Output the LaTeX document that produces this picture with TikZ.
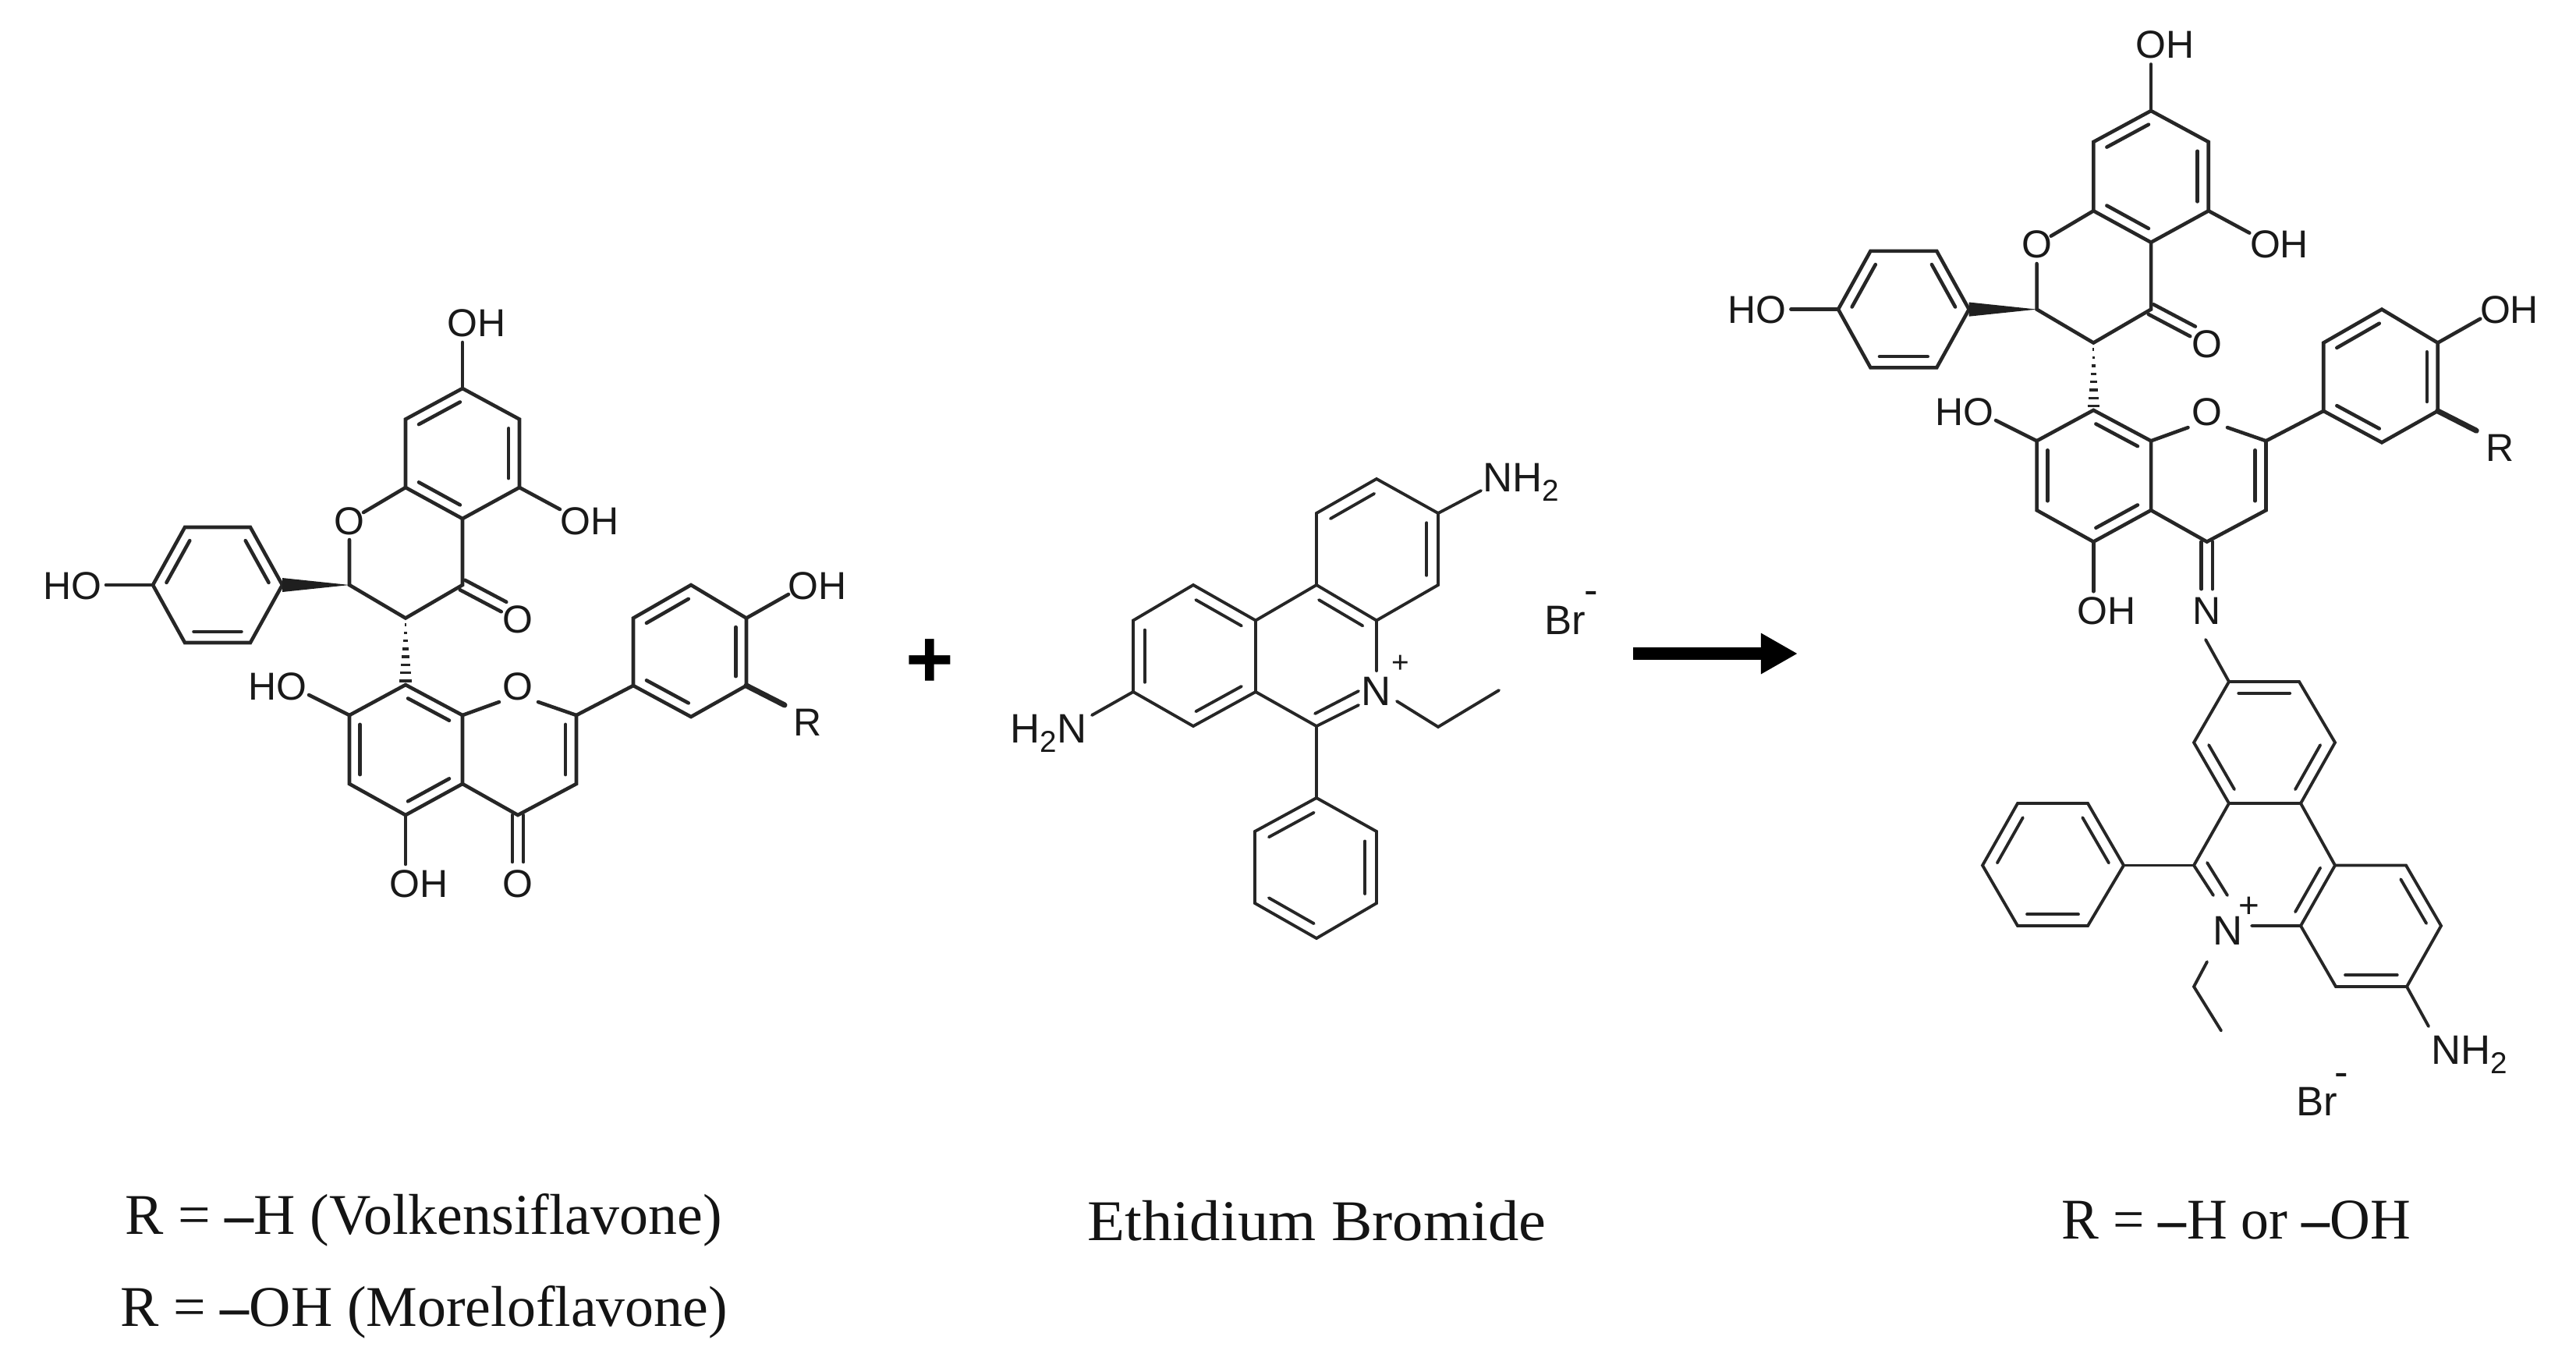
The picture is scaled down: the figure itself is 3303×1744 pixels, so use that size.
\documentclass[tikz,border=0pt]{standalone}
\usepackage{fontspec}
\setmainfont{Liberation Serif}
\newfontfamily\labfont{Liberation Sans}
\usetikzlibrary{calc,arrows.meta}
\tikzset{
  bondA/.style={line width=1.3pt,line cap=round,line join=miter,black!85},
  bondB/.style={line width=1.1pt,line cap=round,line join=miter,black!85},
  atomA/.style={inner sep=0,font=\labfont\fontsize{14.2}{16}\selectfont,black!90},
  atomB/.style={inner sep=0,font=\labfont\fontsize{15}{17}\selectfont,black!90},
  capt/.style={inner sep=0,anchor=base,font=\fontsize{21}{25}\selectfont,black!92},
}
\newcommand\ib[3]{\draw[shorten <=1pt,shorten >=1pt] ($(#1)!.19!(#3)$) -- ($(#2)!.19!(#3)$);}
\newcommand\db[3]{\draw ($(#1)!#3!90:(#2)$) -- ($(#2)!#3!-90:(#1)$); \draw ($(#1)!#3!-90:(#2)$) -- ($(#2)!#3!90:(#1)$);}
\newcommand\subtwo{\raisebox{-3.4pt}{\fontsize{11}{12}\selectfont 2}}
\newcommand\flav[2]{%
  \coordinate (#1a1) at (593,498); \coordinate (#1a2) at (666,537.5); \coordinate (#1a3) at (666,625);
  \coordinate (#1a4) at (593,665); \coordinate (#1a5) at (520,625); \coordinate (#1a6) at (520,537.5);
  \coordinate (#1ca) at (593,581);
  \coordinate (#1oa) at (593,439); \coordinate (#1ob) at (718,653);
  \coordinate (#1r1) at (448,692); \coordinate (#1r2) at (466,657);
  \coordinate (#1c2) at (448,750); \coordinate (#1c3) at (520,792.5); \coordinate (#1c4) at (593,750);
  \coordinate (#1oc) at (646,778);
  \coordinate (#1p1) at (196,750); \coordinate (#1p2) at (237,676); \coordinate (#1p3) at (321,676);
  \coordinate (#1p4) at (362,750); \coordinate (#1p5) at (321,824); \coordinate (#1p6) at (237,824);
  \coordinate (#1cp) at (279,750); \coordinate (#1ho) at (136,750);
  \coordinate (#1b1) at (520,878); \coordinate (#1b2) at (593,917); \coordinate (#1b3) at (593,1005);
  \coordinate (#1b4) at (520,1045); \coordinate (#1b5) at (448,1005); \coordinate (#1b6) at (448,917);
  \coordinate (#1cb) at (520,961); \coordinate (#1cy) at (666,961);
  \coordinate (#1o1) at (640,900); \coordinate (#1o2) at (690,900);
  \coordinate (#1d2) at (739,917); \coordinate (#1d3) at (739,1005); \coordinate (#1d4) at (664,1045);
  \coordinate (#1x) at (664,1105); \coordinate (#1oe) at (520,1108); \coordinate (#1of) at (396,891);
  \coordinate (#1q1) at (812,879); \coordinate (#1q2) at (812,792.5); \coordinate (#1q3) at (886,750);
  \coordinate (#1q4) at (957,792.5); \coordinate (#1q5) at (957,879); \coordinate (#1q6) at (886,919);
  \coordinate (#1cq) at (885,835); \coordinate (#1og) at (1011,762); \coordinate (#1rr) at (1006,904);
  \begin{scope}[bondA]
    \draw (#1a1)--(#1a2)--(#1a3)--(#1a4)--(#1a5)--(#1a6)--cycle;
    \ib{#1a1}{#1a6}{#1ca}\ib{#1a2}{#1a3}{#1ca}\ib{#1a4}{#1a5}{#1ca}
    \draw (#1a1)--(#1oa); \draw (#1a3)--(#1ob);
    \draw (#1a5)--(#1r2); \draw (#1r1)--(#1c2)--(#1c3)--(#1c4)--(#1a4);
    \db{#1c4}{#1oc}{2pt}
    \draw (#1p1)--(#1p2)--(#1p3)--(#1p4)--(#1p5)--(#1p6)--cycle;
    \ib{#1p1}{#1p2}{#1cp}\ib{#1p3}{#1p4}{#1cp}\ib{#1p5}{#1p6}{#1cp}
    \draw (#1p1)--(#1ho);
    \draw (#1b1)--(#1b2)--(#1b3)--(#1b4)--(#1b5)--(#1b6)--cycle;
    \ib{#1b1}{#1b2}{#1cb}\ib{#1b5}{#1b6}{#1cb}\ib{#1b3}{#1b4}{#1cb}
    \draw (#1b2)--(#1o1); \draw (#1o2)--(#1d2)--(#1d3)--(#1d4)--(#1b3);
    \ib{#1d2}{#1d3}{#1cy}
    \db{#1d4}{#1x}{2pt}
    \draw (#1b4)--(#1oe); \draw (#1b6)--(#1of);
    \draw (#1d2)--(#1q1);
    \draw (#1q1)--(#1q2)--(#1q3)--(#1q4)--(#1q5)--(#1q6)--cycle;
    \ib{#1q2}{#1q3}{#1cq}\ib{#1q4}{#1q5}{#1cq}\ib{#1q1}{#1q6}{#1cq}
    \draw (#1q4)--(#1og);
    \draw[line width=2pt] (#1q5)--(#1rr);
  \end{scope}
  \fill[black!88] (#1c2) -- ($(#1p4)+(0,-9)$) -- ($(#1p4)+(0,9)$) -- cycle;
  \foreach \t in {.1,.22,.34,.46,.58,.7,.82,.94}{
    \draw[line width=1pt,black!85] ($(#1c3)!\t!(#1b1)+(-\t*8,0)$) -- ($(#1c3)!\t!(#1b1)+(\t*8,0)$);
  }
  \node[atomA] (#1l1) at (611,414) {OH};
  \node[atomA] (#1l2) at (756,668) {OH};
  \node[atomA] (#1l3) at (448,668) {O};
  \node[atomA] (#1l4) at (93,751) {HO};
  \node[atomA] (#1l5) at (664,794) {O};
  \node[atomA] (#1l6) at (664,880) {O};
  \node[atomA] (#1l7) at (356,880) {HO};
  \node[atomA] (#1l8) at (537,1133) {OH};
  \node[atomA] (#1l9) at (664,1133) {#2};
  \node[atomA] (#1l10) at (1048,751) {OH};
  \node[atomA] (#1l11) at (1036,926) {R};
}
\begin{document}
\begin{tikzpicture}[x=0.01cm,y=-0.01cm]
\useasboundingbox (0,0) rectangle (3303,1744);
\fill[white] (0,0) rectangle (3303,1744);
% left flavonoid
\flav{A}{O}
% right flavonoid
\begin{scope}[shift={(2159,-361)},scale=1.01]
\flav{C}{N}
\end{scope}
% plus
\node[inner sep=0,font=\labfont\bfseries\fontsize{30}{30}\selectfont] (plus) at (1192,851) {+};
% arrow
\coordinate (ar1) at (2094,838); \coordinate (ar2) at (2305,838);
\draw[line width=4.6pt,-{Triangle[length=13.4pt,width=14pt]}] (ar1)--(ar2);
% ethidium bromide
\coordinate (e1) at (1765,614); \coordinate (e2) at (1844,658); \coordinate (e3) at (1844,750);
\coordinate (e4) at (1765,795.5); \coordinate (e5) at (1688,750); \coordinate (e6) at (1688,658);
\coordinate (ec1) at (1766,704);
\coordinate (en) at (1765,860); \coordinate (en2) at (1742,904); \coordinate (e7) at (1688,931);
\coordinate (e8) at (1610,887); \coordinate (e9) at (1610,795.5); \coordinate (ec2) at (1688,841);
\coordinate (e10) at (1530,931); \coordinate (e11) at (1453,887); \coordinate (e12) at (1453,795.5);
\coordinate (e13) at (1530,750); \coordinate (ec3) at (1531,841);
\coordinate (enh) at (1899,629); \coordinate (enl) at (1400,917);
\coordinate (et0) at (1791,899); \coordinate (et1) at (1844,932); \coordinate (et2) at (1922,885);
\coordinate (f1) at (1688,1023); \coordinate (f2) at (1765,1066); \coordinate (f3) at (1765,1158);
\coordinate (f4) at (1688,1203); \coordinate (f5) at (1609,1158); \coordinate (f6) at (1609,1066);
\coordinate (fc) at (1687,1113);
\coordinate (eni1) at (1686,915); \coordinate (eni2) at (1742,886);
\begin{scope}[bondB]
  \draw (e1)--(e2)--(e3)--(e4)--(e5)--(e6)--cycle;
  \ib{e6}{e1}{ec1}\ib{e2}{e3}{ec1}\ib{e5}{e4}{ec2}
  \draw (e4)--(en); \draw (en2)--(e7)--(e8)--(e9)--(e5);
  \draw (eni1)--(eni2);
  \draw (e9)--(e13)--(e12)--(e11)--(e10)--(e8);
  \ib{e13}{e9}{ec3}\ib{e12}{e11}{ec3}\ib{e10}{e8}{ec3}
  \draw (e2)--(enh); \draw (e11)--(enl);
  \draw (et0)--(et1)--(et2);
  \draw (e7)--(f1);
  \draw (f1)--(f2)--(f3)--(f4)--(f5)--(f6)--cycle;
  \ib{f1}{f6}{fc}\ib{f2}{f3}{fc}\ib{f4}{f5}{fc}
\end{scope}
\node[atomB,anchor=west] (enh2) at (1901,618) {NH\subtwo};
\node[atomB,anchor=east] (enl2) at (1394,940) {H\subtwo N};
\node[atomB] (enN) at (1765,886) {N};
\node[atomB,font=\labfont\fontsize{11}{12}\selectfont] (enP) at (1796,851) {+};
\node[atomB] (br) at (2007,795) {Br};
\node[atomB] (brm) at (2040,766) {-};
% lower right ethidium
\coordinate (g1) at (2858,874); \coordinate (g2) at (2948,874); \coordinate (g3) at (2994,952);
\coordinate (g4) at (2950,1030); \coordinate (g5) at (2858,1030); \coordinate (g6) at (2813,952);
\coordinate (gc1) at (2904,952);
\coordinate (gnn) at (2828,820);
\coordinate (g7) at (2994,1109.5); \coordinate (g8) at (2950,1187); \coordinate (gn1) at (2887,1187);
\coordinate (g9) at (2813,1109.5); \coordinate (gd1) at (2838,1148);
\coordinate (gd2) at (2830,1106); \coordinate (gd3) at (2856,1148);
\coordinate (gc2) at (2904,1109.5);
\coordinate (g10) at (3085,1109.5); \coordinate (g11) at (3130,1187); \coordinate (g12) at (3086,1265);
\coordinate (g13) at (2995,1265); \coordinate (gc3) at (3040,1187);
\coordinate (gh) at (3114,1316);
\coordinate (ge0) at (2830,1233); \coordinate (ge1) at (2813,1265); \coordinate (ge2) at (2848,1321.5);
\coordinate (h1) at (2723,1109.5); \coordinate (h2) at (2677,1030); \coordinate (h3) at (2587,1030);
\coordinate (h4) at (2542,1109.5); \coordinate (h5) at (2587,1187); \coordinate (h6) at (2677,1187);
\coordinate (hc) at (2632,1109.5);
\begin{scope}[bondB]
  \draw (g1)--(g2)--(g3)--(g4)--(g5)--(g6)--cycle;
  \ib{g1}{g2}{gc1}\ib{g3}{g4}{gc1}\ib{g5}{g6}{gc1}
  \draw (g1)--(gnn);
  \draw (gd1)--(g9)--(g5); \draw (g4)--(g7)--(g8)--(gn1);
  \draw (gd2)--(gd3);
  \ib{g7}{g8}{gc2}
  \draw (g7)--(g10)--(g11)--(g12)--(g13)--(g8);
  \ib{g10}{g11}{gc3}\ib{g12}{g13}{gc3}
  \draw (g12)--(gh);
  \draw (ge0)--(ge1)--(ge2);
  \draw (g9)--(h1);
  \draw (h1)--(h2)--(h3)--(h4)--(h5)--(h6)--cycle;
  \ib{h1}{h2}{hc}\ib{h3}{h4}{hc}\ib{h5}{h6}{hc}
\end{scope}
\node[atomB,anchor=west] (gh2) at (3117,1352) {NH\subtwo};
\node[atomB] (gN) at (2857,1193) {N};
\node[atomB,font=\labfont\fontsize{13}{14}\selectfont] (gP) at (2884,1163) {+};
\node[atomB] (gbr) at (2971,1412) {Br};
\node[atomB] (gbm) at (3002,1384) {-};
% captions
\node[capt,anchor=base west] (c1) at (160,1582) {R = \textbf{–}H (Volkensiflavone)};
\node[capt,anchor=base west] (c2) at (154,1700) {R = \textbf{–}OH (Moreloflavone)};
\node[capt,anchor=base west] (c3) at (1394,1590) {\scalebox{1.065}[1]{Ethidium Bromide}};
\node[capt,anchor=base west] (c4) at (2643,1588) {\scalebox{.97}[1]{R = \textbf{–}H or \textbf{–}OH}};
\end{tikzpicture}
\end{document}
